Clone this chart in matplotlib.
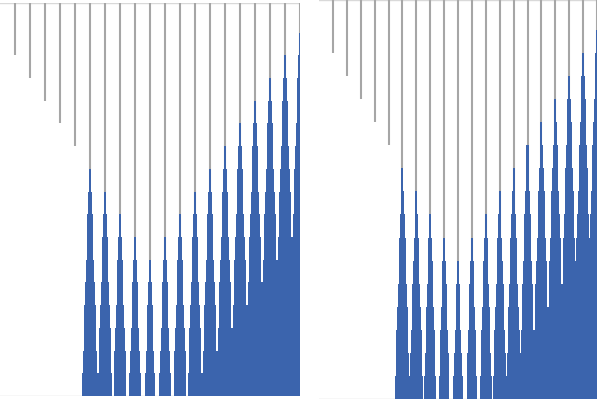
import matplotlib
matplotlib.use('Agg')
import matplotlib.pyplot as plt
import numpy as np

# column positions and values (shared by both panels)
columns = np.arange(1, 21)
blue_heights = np.array([0, 0, 0, 0, 0, 10, 9, 8, 7, 6, 7, 8, 9, 10, 11, 12, 13, 14, 15, 16])
gray_ends = np.array([15, 14, 13, 12, 11, 10, 9, 8, 7, 6, 5, 4, 3, 2, 1, 0, 0, 0, 0, 0])

Y_TOP = 17.3
BLUE = '#3b64ad'
GRAY = '#a6a6a6'
AXIS = '#d9d9d9'


def draw_panel(ax, base_width, step_width):
    ax.vlines(columns, gray_ends, Y_TOP, color=GRAY, linewidth=1.5, zorder=1)
    # each column is a stack of overlaid bars, narrow at the top and wider further down
    for depth in range(blue_heights.max()):
        mask = blue_heights > depth
        ax.bar(columns[mask], blue_heights[mask] - depth,
               width=base_width + step_width * depth,
               color=BLUE, linewidth=0, zorder=2)
    ax.axhline(0, color=AXIS, linewidth=1, zorder=0)
    ax.axhline(Y_TOP, color=AXIS, linewidth=1, zorder=0)
    ax.set_xlim(0, 20)
    ax.set_ylim(0, Y_TOP)
    ax.axis('off')


fig = plt.figure(figsize=(6.08, 4.0), dpi=100)
ax_left = fig.add_axes([0 / 608, 4 / 400, 300 / 608, 393 / 400])
ax_right = fig.add_axes([319 / 608, 1 / 400, 278 / 608, 399 / 400])

draw_panel(ax_left, 0.133, 0.102)
draw_panel(ax_right, 0.15, 0.1)

fig.savefig('out.png', dpi=100)
